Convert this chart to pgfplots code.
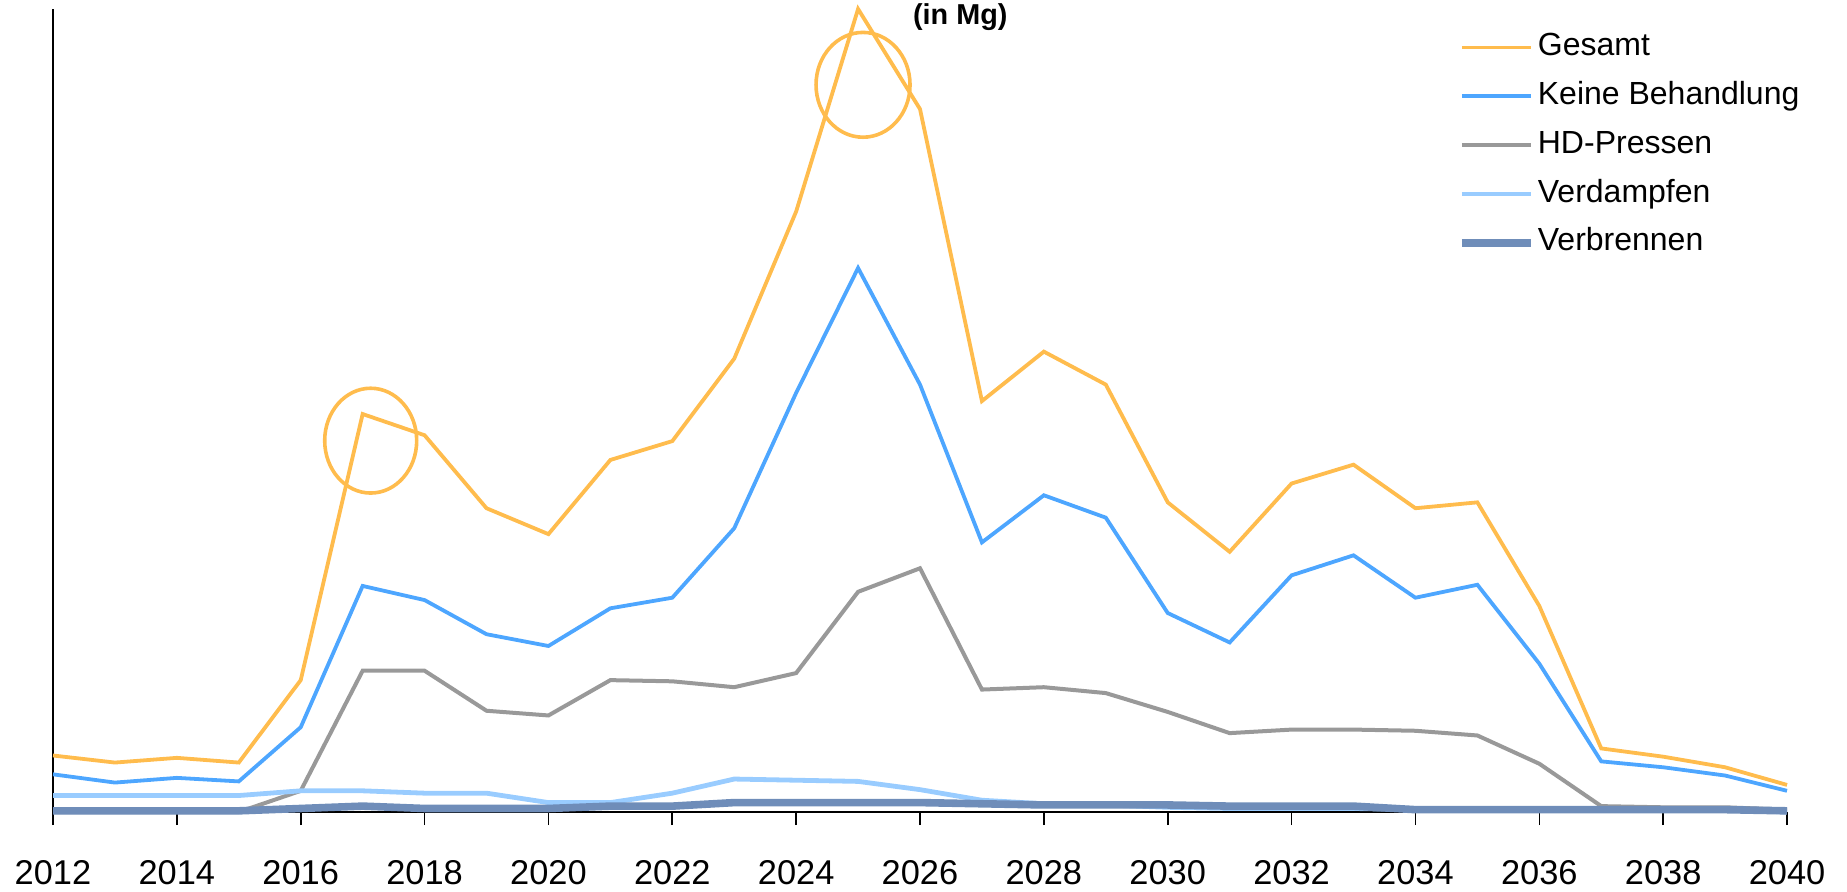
\documentclass[border=0pt]{standalone}
\usepackage{fontspec}
\setmainfont{Liberation Sans}
\usepackage{pgfplots}
\pgfplotsset{compat=1.18}
\definecolor{cGes}{RGB}{255,188,77}
\definecolor{cKei}{RGB}{77,166,255}
\definecolor{cHD}{RGB}{153,153,153}
\definecolor{cVerd}{RGB}{153,204,255}
\definecolor{cVerb}{RGB}{111,141,185}
\begin{document}
\begin{tikzpicture}
\begin{axis}[
  scale only axis, width=433.5pt, height=200.75pt,
  xmin=2012, xmax=2040, ymin=0, ymax=682,
  enlargelimits=false, clip=false,
  axis lines=left, axis line style={-, black, line width=0.5pt},
  xtick={2012,2014,...,2040},
  xticklabels={2012,2014,2016,2018,2020,2022,2024,2026,2028,2030,2032,2034,2036,2038,2040},
  ytick=\empty,
  tick align=outside, major tick length=3.25pt,
  tick style={black, line width=0.4pt},
  xticklabel style={font=\fontsize{8.6}{10}\selectfont, inner sep=0pt, anchor=north, yshift=-8.6pt},
  legend style={draw=none, fill=none, inner sep=0pt, outer sep=0pt,
    at={(rel axis cs:0.8103,1)}, yshift=-6pt, anchor=north west,
    row sep=4.9pt, column sep=0.8pt,
    nodes={inner sep=0pt, text height=5.7pt, text depth=1.6pt, font=\fontsize{8}{9}\selectfont}},
  legend cell align=left,
  legend image code/.code={\draw[#1] (0pt,0pt) -- (17.25pt,0pt);},
]
\addplot[cGes, line width=0.95pt] coordinates {
(2012,48)(2013,42)(2014,46)(2015,42)(2016,112)(2017,338)(2018,320)(2019,258)(2020,236)(2021,299)
(2022,315)(2023,385)(2024,510)(2025,682)(2026,597)(2027,349)(2028,391)(2029,363)(2030,263)(2031,221)
(2032,279)(2033,295)(2034,258)(2035,263)(2036,175)(2037,54)(2038,47)(2039,38)(2040,23)};
\addlegendentry{Gesamt}
\addplot[cKei, line width=0.95pt] coordinates {
(2012,32)(2013,25)(2014,29)(2015,26)(2016,72)(2017,192)(2018,180)(2019,151)(2020,141)(2021,173)
(2022,182)(2023,241)(2024,356)(2025,462)(2026,363)(2027,229)(2028,269)(2029,250)(2030,169)(2031,144)
(2032,201)(2033,218)(2034,182)(2035,193)(2036,126)(2037,43)(2038,38)(2039,31)(2040,18)};
\addlegendentry{Keine Behandlung}
\addplot[cHD, line width=1.0pt] coordinates {
(2012,0)(2013,0)(2014,0)(2015,0)(2016,18)(2017,120)(2018,120)(2019,86)(2020,82)(2021,112)
(2022,111)(2023,106)(2024,118)(2025,187)(2026,207)(2027,104)(2028,106)(2029,101)(2030,85)(2031,67)
(2032,70)(2033,70)(2034,69)(2035,65)(2036,41)(2037,5)(2038,4)(2039,4)(2040,2)};
\addlegendentry{HD-Pressen}
\addplot[cVerd, line width=1.2pt] coordinates {
(2012,14)(2013,14)(2014,14)(2015,14)(2016,18)(2017,18)(2018,16)(2019,16)(2020,8)(2021,8)
(2022,16)(2023,28)(2024,27)(2025,26)(2026,19)(2027,10)(2028,7)(2029,6)(2030,4)(2031,3)
(2032,3)(2033,3)(2034,2)(2035,2)(2036,2)(2037,2)(2038,2)(2039,2)(2040,0)};
\addlegendentry{Verdampfen}
\addplot[cVerb, line width=1.9pt] coordinates {
(2012,1)(2013,1)(2014,1)(2015,1)(2016,3)(2017,5)(2018,3)(2019,3)(2020,3)(2021,5)
(2022,5)(2023,8)(2024,8)(2025,8)(2026,8)(2027,7)(2028,6)(2029,6)(2030,6)(2031,5)
(2032,5)(2033,5)(2034,2)(2035,2)(2036,2)(2037,2)(2038,2)(2039,2)(2040,1)};
\addlegendentry{Verbrennen}
\draw[cGes, line width=0.9pt] (axis cs:2017.13,315.4) ellipse [x radius=11.5pt, y radius=13.1pt];
\draw[cGes, line width=0.9pt] (axis cs:2025.08,617.6) ellipse [x radius=11.75pt, y radius=13.1pt];
\node[font=\bfseries\fontsize{7.2}{8}\selectfont, inner sep=0pt] at (axis cs:2026.65,682) [yshift=-2pt] {(in Mg)};
\coordinate (bl) at (rel axis cs:0,0);
\end{axis}
\pgfresetboundingbox
\path (bl) ++(-13.25pt,-19.75pt) rectangle ++(461.75pt,222.75pt);
\end{tikzpicture}
\end{document}
